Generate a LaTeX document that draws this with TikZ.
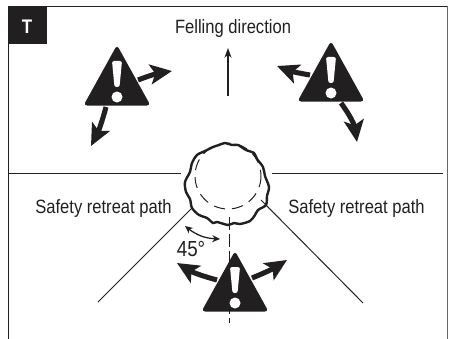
\documentclass[tikz,border=0pt]{standalone}
\usepackage{fontspec}
\setmainfont[FakeStretch=0.86]{Liberation Sans}
\usetikzlibrary{arrows.meta}
\definecolor{mblack}{rgb}{0.13, 0.12, 0.12}
\definecolor{mgrey}{rgb}{0.4, 0.4, 0.4}
\tikzset{label/.style = {text = mblack, inner sep = 0, font = \fontsize{13.7}{15}\selectfont}}
\tikzset{fat/.style = {draw = mblack, line width = 3.6pt, -{Stealth[length = 15.5pt, width = 14pt, inset = 3.5pt]}}}
\tikzset{thin/.style = {draw = mblack, line width = 0.7pt}}
\begin{document}
\begin{tikzpicture}[x=0.25mm, y=-0.25mm]
    \useasboundingbox (0, 0) rectangle (450, 339);

    % frame
    \draw [thin, line width=0.9pt] (8.5, 339) -- (8.5, 6.5) -- (447.5, 6.5);
    \draw [mgrey, line width=1.2pt] (447.5, 6.5) -- (447.5, 339);
    \fill [mblack] (8.5, 6.5) rectangle (47, 44.5);
    \node [font=\bfseries\fontsize{14}{16}\selectfont, text=white, inner sep=0] (tag) at (27, 26.5) {T};

    \node [label] (felling) at (233, 29) {Felling direction};
    \node [label] (retreatl) at (103.5, 209) {Safety retreat path};
    \node [label] (retreatr) at (356.5, 209) {Safety retreat path};
    \node [label, font=\fontsize{15.5}{17}\selectfont] (angle) at (191, 249) {45°};

    % ground lines
    \draw [thin] (9, 173) -- (181, 173);
    \draw [thin] (272, 173) -- (443, 173);
    \draw [thin] (192, 208) -- (98, 302);
    \draw [thin] (261, 200) -- (363, 303);
    \draw [thin, dash pattern=on 9pt off 3pt] (229, 217) -- (229, 323);

    % trunk
    \draw [mblack, line width=0.7pt, dash pattern=on 8pt off 5pt] (228, 176) circle [radius=33];
    \draw [mblack, line width=1.7pt] plot [smooth cycle, tension=0.5] coordinates {(225, 143) (232, 145) (238, 145) (246, 150) (254, 153) (257, 159) (263, 167) (265, 176) (269, 187) (267, 196) (266, 205) (258, 210) (255, 215) (250, 221) (240, 224) (234, 223) (228, 225) (217, 222) (213, 223) (207, 218) (199, 215) (192, 208) (190, 199) (186, 192) (185, 182) (190, 172) (192, 163) (197, 155) (205, 151) (213, 147) (219, 145)};

    \draw [thin, line width=1pt, -{Stealth[length=7pt, width=5pt]}] (228, 96) -- (228, 48);
    \draw [thin, line width=0.9pt, {Stealth[length=5.5pt, width=5pt]}-{Stealth[length=5.5pt, width=5pt]}] (185, 226) to [bend right=18] (220, 239);

    % warning signs
    \foreach \x/\y in {117/50, 331/46, 235/256} {
      \begin{scope}[shift={(\x, \y)}]
        \fill [mblack, rounded corners=2.5pt] (0, -5) -- (33.5, 55.5) -- (-33.5, 55.5) -- cycle;
        \fill [white, rounded corners=1.5pt] (-5, 11) -- (5, 11) -- (2.5, 37) -- (-2.5, 37) -- cycle;
        \fill [white] (0, 47) circle [radius=5.5];
      \end{scope}
    }

    \draw [fat] (138, 80) to [bend left=6] (172, 71);
    \draw [fat] (106, 107) to [bend left=6] (91, 146);
    \draw [fat] (310, 75) to [bend left=6] (277, 66);
    \draw [fat] (341, 103) to [bend left=14] (357, 142);
    \draw [fat] (217, 280) to [bend left=8] (177, 263);
    \draw [fat] (252, 278) to [bend right=5] (287, 260);
\end{tikzpicture}
\end{document}
